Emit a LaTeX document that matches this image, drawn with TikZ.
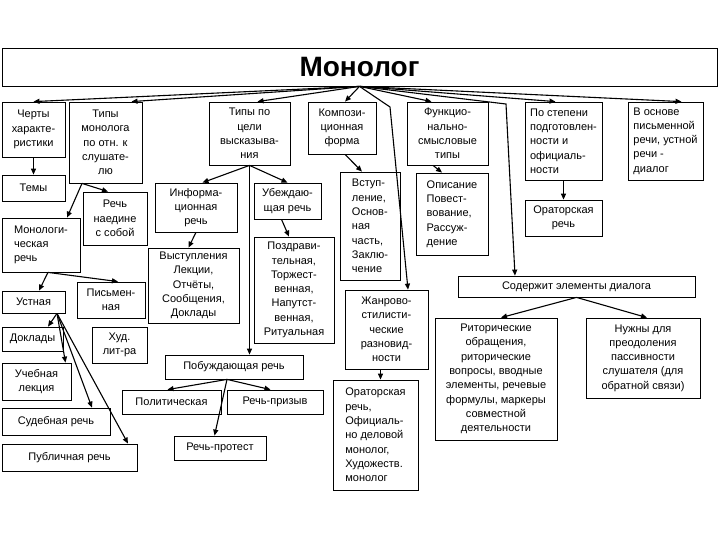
\documentclass[tikz,border=0pt]{standalone}
\usepackage{fontspec}
\setmainfont{Liberation Sans}
\usetikzlibrary{arrows.meta}

\begin{document}
\begin{tikzpicture}[x=1pt,y=-1pt,font=\fontsize{11}{14.3}\selectfont,
 box/.style={draw,line width=.8pt,align=center,inner sep=1pt},
 lbox/.style={box,align=left},
 arr/.style={-{Triangle[length=6pt,width=5pt]},line width=1.1pt}]
\path[use as bounding box] (0,0) rectangle (720,540);
\node[box,minimum width=715,minimum height=38,font=\fontsize{28}{30}\selectfont\bfseries] (monolog) at (359.5,67) {\raisebox{-2.5pt}{Монолог}};
% first row under the title
\node[box,minimum width=63,minimum height=55] (cherty) at (33.5,129.5) {Черты\\характе-\\ристики};
\node[box,minimum width=73,minimum height=81] (tipyMon) at (105.5,142.5) {Типы\\монолога\\по отн. к\\слушате-\\лю};
\node[box,minimum width=81,minimum height=63] (tipyCel) at (249.5,133.5) {Типы по\\цели\\высказыва-\\ния};
\node[box,minimum width=68,minimum height=52] (kompoz) at (342,128) {Компози-\\ционная\\форма};
\node[box,minimum width=81,minimum height=63] (funk) at (447.5,133.5) {Функцио-\\нально-\\смысловые\\типы};
\node[lbox,minimum width=77,minimum height=78] (stepen) at (563.5,141) {По степени\\подготовлен-\\ности и\\официаль-\\ности};
\node[lbox,minimum width=75,minimum height=78] (osnove) at (665.5,141) {В основе\\письменной\\речи, устной\\речи -\\диалог};
% left column
\node[box,minimum width=63,minimum height=26] (temy) at (33.5,188) {Темы};
\node[box,minimum width=64,minimum height=53] (naedine) at (115,218.5) {Речь\\наедине\\с собой};
\node[lbox,minimum width=78,minimum height=54] (monRech) at (41,245) {Монологи-\\ческая\\речь};
\node[box,minimum width=63,minimum height=22] (ustnaya) at (33.5,302) {Устная};
\node[box,minimum width=68,minimum height=36] (pismen) at (111,300) {Письмен-\\ная};
\node[box,minimum width=61,minimum height=24] (doklady) at (32.5,339) {Доклады};
\node[box,minimum width=55,minimum height=36] (hud) at (119.5,345) {Худ.\\лит-ра};
\node[box,minimum width=69,minimum height=37] (uchebn) at (36.5,381.5) {Учебная\\лекция};
\node[box,minimum width=108,minimum height=27] (sudeb) at (56,421.5) {Судебная речь};
\node[box,minimum width=135,minimum height=27] (publich) at (69.5,457.5) {Публичная речь};
% types by purpose
\node[box,minimum width=82,minimum height=49] (inform) at (196,207.5) {Информа-\\ционная\\речь};
\node[box,minimum width=91,minimum height=75] (vyst) at (193.5,285.5) {Выступления\\Лекции,\\Отчёты,\\Сообщения,\\Доклады};
\node[box,minimum width=67,minimum height=36] (ubezh) at (287.5,201) {Убеждаю-\\щая речь};
\node[box,minimum width=80,minimum height=106] (pozdr) at (294,290) {Поздрави-\\тельная,\\Торжест-\\венная,\\Напутст-\\венная,\\Ритуальная};
\node[box,minimum width=138,minimum height=24] (pobuzh) at (234,367) {Побуждающая речь};
\node[box,minimum width=99,minimum height=24] (polit) at (171.5,402) {Политическая};
\node[box,minimum width=96,minimum height=24] (prizyv) at (275,402) {Речь-призыв};
\node[box,minimum width=92,minimum height=24] (protest) at (220,448) {Речь-протест};
% composition and genres
\node[lbox,minimum width=60,minimum height=108] (vstup) at (370,226) {Вступ-\\ление,\\Основ-\\ная\\часть,\\Заклю-\\чение};
\node[box,minimum width=83,minimum height=79] (zhanr) at (386.5,329.5) {Жанрово-\\стилисти-\\ческие\\разновид-\\ности};
\node[lbox,minimum width=85,minimum height=110] (orator) at (375.5,435) {Ораторская\\речь,\\Официаль-\\но деловой\\монолог,\\Художеств.\\монолог};
\node[lbox,minimum width=72,minimum height=82] (opis) at (452,214) {Описание\\Повест-\\вование,\\Рассуж-\\дение};
\node[box,minimum width=77,minimum height=36] (orator2) at (563.5,218) {Ораторская\\речь};
% dialogue elements
\node[box,minimum width=237,minimum height=21] (soderzh) at (576.5,286.5) {Содержит элементы диалога};
\node[box,minimum width=122,minimum height=122] (ritor) at (496,379) {Риторические\\обращения,\\риторические\\вопросы, вводные\\элементы, речевые\\формулы, маркеры\\совместной\\деятельности};
\node[box,minimum width=114,minimum height=80] (nuzhny) at (643,358) {Нужны для\\преодоления\\пассивности\\слушателя (для\\обратной связи)};
\coordinate (kinkA) at (390,107);
\coordinate (kinkB) at (506,104);
% arrows from the title
\draw[arr] (monolog.south) -- (cherty.north);
\draw[arr] (monolog.south) -- ([xshift=26pt]tipyMon.north);
\draw[arr] (monolog.south) -- ([xshift=8pt]tipyCel.north);
\draw[arr] (monolog.south) -- ([xshift=3pt]kompoz.north);
\draw[arr] (monolog.south) -- ([xshift=-16pt]funk.north);
\draw[arr] (monolog.south) -- ([xshift=-8pt]stepen.north);
\draw[arr] (monolog.south) -- ([xshift=16pt]osnove.north);
\draw[arr] (monolog.south) -- (kinkA) -- ([xshift=21.5pt]zhanr.north);
\draw[arr] (monolog.south) -- (kinkB) -- ([xshift=-61.5pt]soderzh.north);
% left branch
\draw[arr] (cherty.south) -- (temy.north);
\draw[arr] ([xshift=-23.5pt]tipyMon.south) -- ([xshift=-7pt]naedine.north);
\draw[arr] ([xshift=-23.5pt]tipyMon.south) -- ([xshift=26pt]monRech.north);
\draw[arr] ([xshift=7pt]monRech.south) -- ([xshift=5.5pt]ustnaya.north);
\draw[arr] ([xshift=7pt]monRech.south) -- ([xshift=7pt]pismen.north);
\foreach \tgt/\dx in {doklady/15.5,uchebn/29,sudeb/36,publich/58.5}
 \draw[arr] ([xshift=23.5pt]ustnaya.south) -- ([xshift=\dx pt]\tgt.north);
% purpose branch
\draw[arr] (tipyCel.south) -- ([xshift=6.5pt]inform.north);
\draw[arr] (tipyCel.south) -- (ubezh.north);
\draw[arr] (tipyCel.south) -- (tipyCel.south |- pobuzh.north);
\draw[arr] (inform.south) -- ([xshift=-5pt]vyst.north);
\draw[arr] ([xshift=-6pt]ubezh.south) -- ([xshift=-5pt]pozdr.north);
\foreach \tgt/\dx in {polit/-4,prizyv/-4.5,protest/-5.5}
 \draw[arr] ([xshift=-7pt]pobuzh.south) -- ([xshift=\dx pt]\tgt.north);
% right branches
\draw[arr] ([xshift=3pt]kompoz.south) -- ([xshift=-8pt]vstup.north);
\draw[arr] ([xshift=-6pt]zhanr.south) -- ([xshift=-6pt]zhanr.south |- orator.north);
\draw[arr] ([xshift=-14.5pt]funk.south) -- ([xshift=-10pt]opis.north);
\draw[arr] (stepen.south) -- (orator2.north);
\draw[arr] (soderzh.south) -- ([xshift=5pt]ritor.north);
\draw[arr] (soderzh.south) -- ([xshift=4pt]nuzhny.north);
\end{tikzpicture}
\end{document}
